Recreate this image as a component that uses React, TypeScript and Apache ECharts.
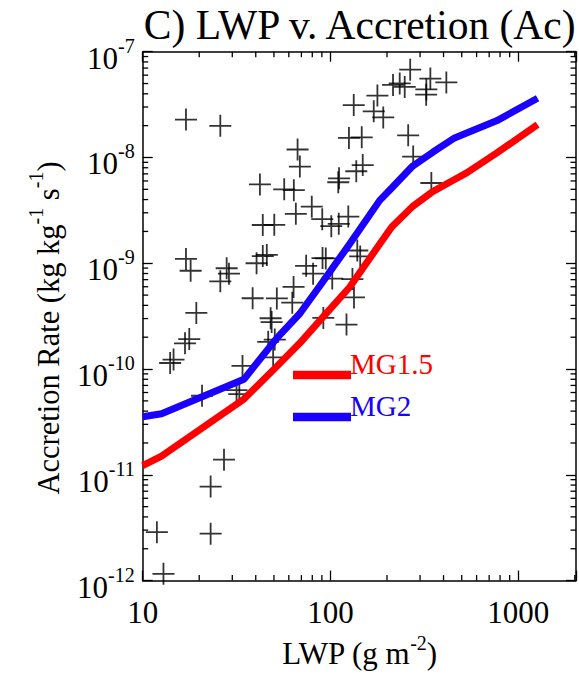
import React, { useEffect, useRef } from "react";
import * as echarts from "echarts";

// ---- Data ----
const X_MIN = 10;
const X_MAX = 2030;
const Y_MIN = 1e-12;
const Y_MAX = 1e-7;

const xTickLabels = ["10", "100", "1000"];

// model curves (LWP g m-2 vs accretion rate)
const modelLwp = [10, 12.6, 34.6, 51.8, 68.7, 87.7, 126.7, 182.9, 211.9, 274, 350, 458, 531, 766, 1267];
const mg15 = [1.22e-11, 1.5e-11, 5.2e-11, 1.06e-10, 1.76e-10, 2.87e-10, 5.97e-10, 1.52e-9, 2.2e-9, 3.45e-9, 4.76e-9, 6.19e-9, 7.15e-9, 1.1e-8, 2.04e-8];
const mg2 = [3.54e-11, 3.78e-11, 7.99e-11, 1.96e-10, 3.35e-10, 6.1e-10, 1.53e-9, 3.93e-9, 5.15e-9, 8.3e-9, 1.12e-8, 1.53e-8, 1.7e-8, 2.22e-8, 3.63e-8];

// observations
const obsLwp = [
  17.0, 25.9, 66.8, 68.7, 42.1, 56.7, 63.8, 65.4, 79.5, 90.4, 101, 110.7, 124.4, 43.6, 50.2,
  133, 177.8, 170, 191, 233.7, 215.3, 248.5, 265.8, 340.3, 414, 324, 323.3, 259.3, 125.4, 146.7,
  148.5, 137.2, 111.1, 110, 275.7, 344.5, 17.0, 18.0, 25.9, 28.0, 28.8, 40.4, 43.6, 45.8, 63.6,
  74.2, 80.8, 90.7, 94.4, 102.2, 130.9, 138.9, 144, 19.3, 38.5, 51.8, 62.6, 48.0, 48.6, 17.7,
  16.8, 14.6, 14.0, 46.6, 50.5, 49.5, 34.0, 20.7, 31.6, 32.7, 91.6, 121.7, 133.4, 27.1, 23.0,
  11.9, 23.0, 12.9,
];
const obsAcc = [
  2.28e-8, 1.99e-8, 1.19e-8, 8.21e-9, 5.56e-9, 5.0e-9, 4.91e-9, 2.93e-9, 3.43e-9, 2.61e-9, 2.24e-9, 2.36e-9, 2.76e-9, 2.3e-9, 2.31e-9,
  3.13e-8, 3.85e-8, 2.73e-8, 2.39e-8, 5.01e-8, 4.85e-8, 4.65e-8, 6.76e-8, 5.57e-8, 5.12e-8, 4.4e-8, 3.92e-8, 1.62e-8, 1.53e-8, 1.55e-8,
  8.48e-9, 7.41e-9, 6.35e-9, 5.83e-9, 1.02e-8, 5.74e-9, 1.1e-9, 8.5e-10, 6.75e-10, 8.97e-10, 7.97e-10, 1.0e-9, 1.17e-9, 1.2e-9, 5.97e-10,
  9.46e-10, 7.97e-10, 1.12e-9, 1.11e-9, 7.16e-10, 7.09e-10, 1.32e-9, 1.16e-9, 3.39e-10, 4.67e-10, 4.65e-10, 4.24e-10, 3.02e-10, 2.78e-10, 1.92e-10,
  1.75e-10, 1.23e-10, 1.14e-10, 1.81e-10, 1.9e-10, 1.29e-10, 1.07e-10, 5.59e-11, 6.31e-11, 5.79e-11, 3.04e-10, 2.63e-10, 4.75e-10, 1.39e-11, 7.75e-12,
  2.87e-12, 2.78e-12, 1.16e-12,
];

// minor tick positions
const minorMult = [2, 3, 4, 5, 6, 7, 8, 9];
const xDecades = [10, 100, 1000];
const yDecades = [1e-12, 1e-11, 1e-10, 1e-9, 1e-8];

const FONT = "'Liberation Serif', 'Times New Roman', serif";
const RED = "#ff0000";
const BLUE = "#1a00ff";

export default function App() {
  const ref = useRef<HTMLDivElement>(null);
  useEffect(() => {
    if (!ref.current) return;
    const chart = echarts.init(ref.current, undefined, { renderer: "svg" });

    const xMinor: number[][] = [];
    xDecades.forEach((d) => minorMult.forEach((m) => { const v = d * m; if (v <= X_MAX) xMinor.push([v, Y_MIN]); }));
    const yMinor: number[][] = [];
    yDecades.forEach((d) => minorMult.forEach((m) => yMinor.push([X_MIN, d * m])));

    const obs = obsLwp.map((x, i) => [x, obsAcc[i]]);
    const line15 = modelLwp.map((x, i) => [x, mg15[i]]);
    const line2 = modelLwp.map((x, i) => [x, mg2[i]]);

    const axisCommon = {
      type: "log" as const,
      logBase: 10,
      axisLine: { show: true, lineStyle: { color: "#000", width: 1.5 } },
      axisTick: { show: true, inside: true, length: 10, lineStyle: { color: "#000", width: 1.3 } },
      splitLine: { show: false },
      minorTick: { show: false },
    };

    const tickLen = 5.5;

    chart.setOption({
      animation: false,
      backgroundColor: "#fff",
      grid: { left: 142.7, top: 51.7, width: 434, height: 538 },
      xAxis: [
        {
          ...axisCommon,
          min: X_MIN,
          max: X_MAX,
          position: "bottom",
          name: "{n|LWP (g m}{s|-2}{n|)}",
          nameLocation: "middle",
          nameGap: 44,
          nameTextStyle: {
            rich: {
              n: { fontFamily: FONT, fontSize: 31, color: "#000", verticalAlign: "bottom", lineHeight: 36 },
              s: { fontFamily: FONT, fontSize: 20, color: "#000", verticalAlign: "top", lineHeight: 36 },
            },
          },
          axisLabel: {
            margin: 32,
            verticalAlign: "middle",
            fontFamily: FONT,
            fontSize: 31,
            color: "#000",
            formatter: (v: number) => {
              const s = String(Math.round(v));
              return xTickLabels.indexOf(s) >= 0 ? s : "";
            },
          },
        },
        {
          ...axisCommon,
          min: X_MIN,
          max: X_MAX,
          position: "top",
          axisLabel: { show: false },
        },
      ],
      yAxis: [
        {
          ...axisCommon,
          min: Y_MIN,
          max: Y_MAX,
          position: "left",
          axisLabel: {
            margin: 8,
            padding: [6, 0, 0, 0],
            formatter: (v: number) => `{b|10}{s|${Math.round(Math.log10(v))}}`,
            rich: {
              b: { fontFamily: FONT, fontSize: 31, color: "#000", verticalAlign: "bottom", lineHeight: 38 },
              s: { fontFamily: FONT, fontSize: 20, color: "#000", verticalAlign: "top", lineHeight: 38 },
            },
          },
        },
        {
          ...axisCommon,
          min: Y_MIN,
          max: Y_MAX,
          position: "right",
          axisLabel: { show: false },
        },
      ],
      graphic: [
        {
          type: "text",
          x: 359.7,
          y: 25,
          style: { text: "C) LWP v. Accretion (Ac)", fontFamily: FONT, fontSize: 41.5, fill: "#000", align: "center", verticalAlign: "middle" },
        },
        {
          type: "text",
          x: 45,
          y: 328,
          rotation: Math.PI / 2,
          style: {
            text: "{n|Accretion Rate (kg kg}{s|-1}{n| s}{s|-1}{n|)}",
            align: "center",
            verticalAlign: "middle",
            rich: {
              n: { fontFamily: FONT, fontSize: 30.5, fill: "#000", verticalAlign: "bottom", lineHeight: 38 },
              s: { fontFamily: FONT, fontSize: 20, fill: "#000", verticalAlign: "top", lineHeight: 38 },
            },
          },
        },
        { type: "line", shape: { x1: 293, y1: 375, x2: 351, y2: 375 }, style: { stroke: RED, lineWidth: 8.5 } },
        { type: "text", x: 350, y: 364, style: { text: "MG1.5", fontFamily: FONT, fontSize: 29, fill: RED, align: "left", verticalAlign: "middle" } },
        { type: "line", shape: { x1: 293, y1: 417, x2: 351, y2: 417 }, style: { stroke: BLUE, lineWidth: 8.5 } },
        { type: "text", x: 350, y: 406, style: { text: "MG2", fontFamily: FONT, fontSize: 29, fill: BLUE, align: "left", verticalAlign: "middle" } },
      ],
      series: [
        {
          type: "custom",
          xAxisIndex: 0,
          yAxisIndex: 0,
          data: xMinor,
          silent: true,
          z: 1,
          renderItem: (params: any, api: any) => {
            const v = api.value(0);
            const b = api.coord([v, Y_MIN]);
            const t = api.coord([v, Y_MAX]);
            const st = { stroke: "#000", lineWidth: 1.3 };
            return {
              type: "group",
              children: [
                { type: "line", shape: { x1: b[0], y1: b[1], x2: b[0], y2: b[1] - tickLen }, style: st },
                { type: "line", shape: { x1: t[0], y1: t[1], x2: t[0], y2: t[1] + tickLen }, style: st },
              ],
            };
          },
        },
        {
          type: "custom",
          xAxisIndex: 0,
          yAxisIndex: 0,
          data: yMinor,
          silent: true,
          z: 1,
          renderItem: (params: any, api: any) => {
            const v = api.value(1);
            const l = api.coord([X_MIN, v]);
            const r = api.coord([X_MAX, v]);
            const st = { stroke: "#000", lineWidth: 1.3 };
            return {
              type: "group",
              children: [
                { type: "line", shape: { x1: l[0], y1: l[1], x2: l[0] + tickLen, y2: l[1] }, style: st },
                { type: "line", shape: { x1: r[0], y1: r[1], x2: r[0] - tickLen, y2: r[1] }, style: st },
              ],
            };
          },
        },
        {
          type: "scatter",
          data: obs,
          symbol: "path://M11 0L11 22M0 11L22 11",
          symbolSize: 22,
          itemStyle: { color: "rgba(0,0,0,0)", borderColor: "#000", borderWidth: 1.8 },
          z: 2,
          silent: true,
        },
        {
          type: "line",
          data: line15,
          showSymbol: false,
          symbol: "none",
          lineStyle: { color: RED, width: 7 },
          z: 3,
          silent: true,
        },
        {
          type: "line",
          data: line2,
          showSymbol: false,
          symbol: "none",
          lineStyle: { color: BLUE, width: 7 },
          z: 3,
          silent: true,
        },
      ],
    });
    return () => chart.dispose();
  }, []);
  return <div ref={ref} style={{ position: "absolute", left: 0, top: 0, width: 579, height: 674 }} />;
}
